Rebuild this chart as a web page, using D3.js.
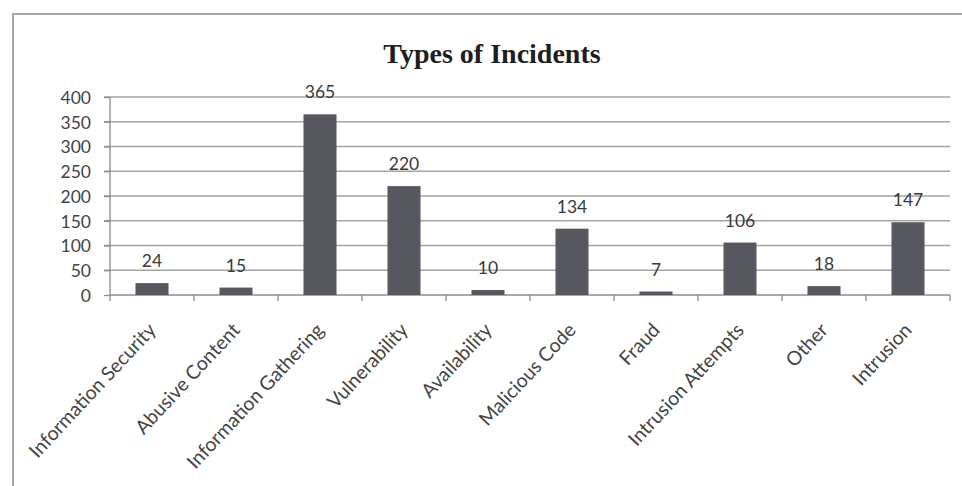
<!DOCTYPE html>
<html>
<head>
<meta charset="utf-8">
<script src="https://cdn.jsdelivr.net/npm/d3@7"></script>
<style>
  html, body { margin: 0; padding: 0; background: #fff; }
  svg { display: block; }
</style>
</head>
<body>
<svg id="chart" width="962" height="486"></svg>
<script>
// Incident categories and their counts
const categories = [
  "Information Security", "Abusive Content", "Information Gathering",
  "Vulnerability", "Availability", "Malicious Code", "Fraud",
  "Intrusion Attempts", "Other", "Intrusion"
];
const counts = [24, 15, 365, 220, 10, 134, 7, 106, 18, 147];
const yTicks = [0, 50, 100, 150, 200, 250, 300, 350, 400];
const title = "Types of Incidents";

const svg = d3.select("#chart");
const W = 962, H = 486;
const plot = { left: 110, right: 950, top: 97, bottom: 295 };

// Outer frame (top and left edges)
svg.append("path")
  .attr("d", `M12,14 H${W} M13,14 V${H}`)
  .attr("fill", "none")
  .attr("stroke", "#a8a8a8")
  .attr("stroke-width", 2);

// Title
svg.append("text")
  .attr("x", 492).attr("y", 63)
  .attr("text-anchor", "middle")
  .attr("font-family", "'Liberation Serif', 'Times New Roman', serif")
  .attr("font-weight", "bold")
  .attr("font-size", 28)
  .attr("fill", "#1e1e1e")
  .text(title);

const pi = 0.607;
const x = d3.scaleBand()
  .domain(categories)
  .range([plot.left, plot.right])
  .paddingInner(pi)
  .paddingOuter(pi / 2);

const y = d3.scaleLinear()
  .domain([0, 400])
  .range([plot.bottom, plot.top]);

// Horizontal gridlines with left tick stubs
svg.append("g")
  .selectAll("line")
  .data(yTicks.filter(t => t > 0))
  .join("line")
  .attr("x1", plot.left - 6).attr("x2", plot.right)
  .attr("y1", d => y(d)).attr("y2", d => y(d))
  .attr("stroke", "#a4a4a4")
  .attr("stroke-width", 1.6);

// Y axis
const yAxis = svg.append("g")
  .attr("transform", `translate(${plot.left},0)`)
  .call(d3.axisLeft(y).tickValues(yTicks).tickSize(6).tickPadding(13));
yAxis.select(".domain").attr("stroke", "#8c8c8c").attr("stroke-width", 1.3)
  .attr("d", `M0,${plot.top}V${plot.bottom}`);
yAxis.selectAll(".tick line").attr("stroke", "#8c8c8c").attr("stroke-width", 1.3);
yAxis.selectAll(".tick text")
  .attr("font-family", "Lato, 'Open Sans', sans-serif")
  .attr("font-size", 17.5)
  .attr("fill", "#444")
  .attr("dy", "0.36em");

// X axis: line with ticks at category boundaries
const step = x.step();
const boundaries = d3.range(categories.length + 1).map(i => plot.left + i * step);
const xg = svg.append("g");
xg.append("line")
  .attr("x1", plot.left).attr("x2", plot.right)
  .attr("y1", plot.bottom).attr("y2", plot.bottom)
  .attr("stroke", "#8c8c8c").attr("stroke-width", 1.3);
xg.selectAll("line.tk")
  .data(boundaries)
  .join("line")
  .attr("class", "tk")
  .attr("x1", d => d).attr("x2", d => d)
  .attr("y1", plot.bottom).attr("y2", plot.bottom + 6)
  .attr("stroke", "#8c8c8c").attr("stroke-width", 1.3);

// Bars
svg.append("g")
  .selectAll("rect")
  .data(counts)
  .join("rect")
  .attr("x", (d, i) => x(categories[i]))
  .attr("width", x.bandwidth())
  .attr("y", d => y(d))
  .attr("height", d => y(0) - y(d))
  .attr("fill", "#57575f");

// Value labels
svg.append("g")
  .selectAll("text")
  .data(counts)
  .join("text")
  .attr("x", (d, i) => x(categories[i]) + x.bandwidth() / 2)
  .attr("y", d => y(d) - 16)
  .attr("text-anchor", "middle")
  .attr("font-family", "Lato, 'Open Sans', sans-serif")
  .attr("font-size", 17.5)
  .attr("fill", "#3a3a3a")
  .text(d => d);

// Rotated category labels
svg.append("g")
  .selectAll("text")
  .data(categories)
  .join("text")
  .attr("transform", d => {
    const cx = x(d) + x.bandwidth() / 2 + 5;
    return `translate(${cx},${plot.bottom + 36}) rotate(-47)`;
  })
  .attr("text-anchor", "end")
  .attr("font-family", "Lato, 'Open Sans', sans-serif")
  .attr("font-size", 19.5)
  .attr("fill", "#444")
  .text(d => d);
</script>
</body>
</html>
